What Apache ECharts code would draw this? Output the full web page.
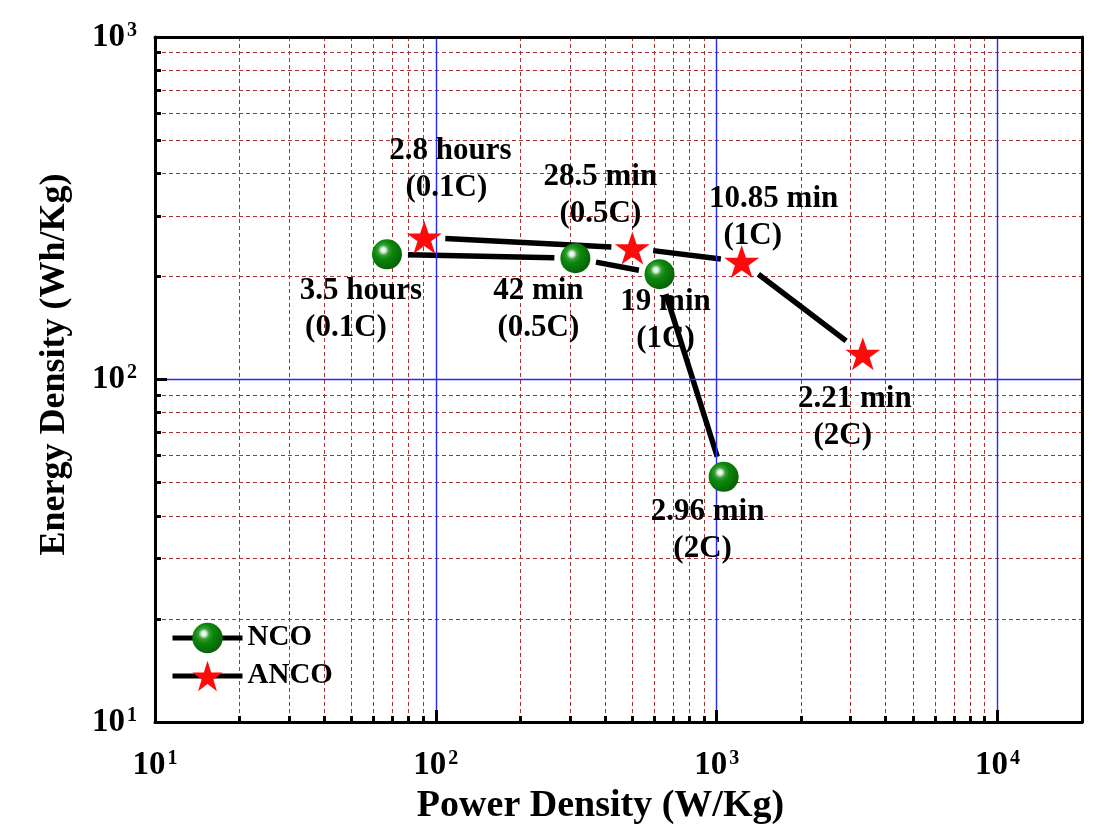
<!DOCTYPE html>
<html>
<head>
<meta charset="utf-8">
<script src="https://cdn.jsdelivr.net/npm/echarts@6/dist/echarts.min.js"></script>
<style>
  html, body { margin: 0; padding: 0; background: #ffffff; }
  #chart { width: 1097px; height: 830px; }
</style>
</head>
<body>
<div id="chart"></div>
<script>
// Ragone plot: energy density vs power density for NCO and ANCO cathodes
const seriesNames = ['NCO', 'ANCO'];

const ncoPower  = [67, 314, 626, 1059];     // W/Kg
const ncoEnergy = [232, 226, 203, 52];      // Wh/Kg
const ncoLabels = [['3.5 hours', '(0.1C)'], ['42 min', '(0.5C)'], ['19 min', '(1C)'], ['2.96 min', '(2C)']];

const ancoPower  = [91, 501, 1228, 3315];   // W/Kg
const ancoEnergy = [260, 242, 221, 119];    // Wh/Kg
const ancoLabels = [['2.8 hours', '(0.1C)'], ['28.5 min', '(0.5C)'], ['10.85 min', '(1C)'], ['2.21 min', '(2C)']];

const xMajorTicks = [10, 100, 1000, 10000];
const xMinorTicks = [20, 30, 40, 50, 60, 70, 80, 90,
                     200, 300, 400, 500, 600, 700, 800, 900,
                     2000, 3000, 4000, 5000, 6000, 7000, 8000, 9000];
const yMajorTicks = [10, 100, 1000];
const yMinorTicks = [20, 30, 40, 50, 60, 70, 80, 90,
                     200, 300, 400, 500, 600, 700, 800, 900];

// label placement relative to each marker: [dx, dy, second-line shift to the left]
const ncoLabelLayout  = [[-26, 55, 15], [-37, 51, 0], [6, 46, 0], [-16, 54, 5]];
const ancoLabelLayout = [[26, -68, 4], [-32, -53, 0], [32, -44, 21], [-8, 64, 12]];

const FONT = '"Liberation Serif", "Times New Roman", serif';
const SEG_GAP = 21;

const sphere = {
  type: 'radial', x: 0.38, y: 0.36, r: 0.68,
  colorStops: [
    { offset: 0, color: '#ffffff' },
    { offset: 0.12, color: '#d6eed6' },
    { offset: 0.26, color: '#3a9f3a' },
    { offset: 0.45, color: '#0c870c' },
    { offset: 1, color: '#066006' }
  ]
};
const starPath = 'path://M50,0 L61.8,35.1 L98.6,35.1 L68.8,56.9 L80.2,92 L50,70.3 L19.8,92 L31.2,56.9 L1.4,35.1 L38.2,35.1 Z';

function pointData(xs, ys, labels, layout) {
  return xs.map((x, i) => {
    const [dx, dy, shift] = layout[i];
    return {
      value: [x, ys[i]],
      label: {
        show: true,
        position: 'inside',
        offset: [dx, dy],
        formatter: '{a|' + labels[i][0] + '}\n{b|' + labels[i][1] + '}',
        rich: {
          a: { fontFamily: FONT, fontWeight: 'bold', fontSize: 31, color: '#000', lineHeight: 37, align: 'center' },
          b: { fontFamily: FONT, fontWeight: 'bold', fontSize: 31, color: '#000', lineHeight: 37, align: 'center',
               padding: [0, shift * 2, 0, 0] }
        }
      }
    };
  });
}

// connecting segments, trimmed so they stop short of each marker
function segmentSeries(name, xs, ys) {
  const segs = xs.slice(0, -1).map((x, i) => [x, ys[i], xs[i + 1], ys[i + 1]]);
  return {
    type: 'custom',
    name: name,
    coordinateSystem: 'cartesian2d',
    silent: true,
    z: 2,
    data: segs,
    encode: { x: [0, 2], y: [1, 3] },
    renderItem: function (params, api) {
      const p0 = api.coord([api.value(0), api.value(1)]);
      const p1 = api.coord([api.value(2), api.value(3)]);
      const dx = p1[0] - p0[0], dy = p1[1] - p0[1];
      const len = Math.hypot(dx, dy);
      const ux = dx / len, uy = dy / len;
      return {
        type: 'line',
        shape: {
          x1: p0[0] + ux * SEG_GAP, y1: p0[1] + uy * SEG_GAP,
          x2: p1[0] - ux * SEG_GAP, y2: p1[1] - uy * SEG_GAP
        },
        style: { stroke: '#000', lineWidth: 5.5 }
      };
    }
  };
}

function powerLabel(v) {
  const e = Math.round(Math.log10(v));
  return '{b|10}{s|' + e + '}';
}
const tickRich = {
  b: { fontFamily: FONT, fontWeight: 'bold', fontSize: 33, color: '#000' },
  s: { fontFamily: FONT, fontWeight: 'bold', fontSize: 20, color: '#000', verticalAlign: 'top', padding: [0, 0, 0, 2] }
};

const majorLine = { color: '#2626ff', width: 1.4 };
const minorGrid = { show: true, lineStyle: { color: '#a83232', width: 1, type: [4, 3] } };

const xBase = { type: 'log', logBase: 10, min: 10, max: 20000, gridIndex: 0 };
const yBase = { type: 'log', logBase: 10, min: 10, max: 1000, gridIndex: 0 };

const option = {
  backgroundColor: '#ffffff',
  animation: false,
  grid: { left: 155, right: 15, top: 37, bottom: 108, show: false },
  legend: {
    data: seriesNames,
    orient: 'vertical',
    left: 165,
    top: 614,
    itemWidth: 70,
    itemHeight: 38,
    itemGap: 0,
    selectedMode: false,
    textStyle: { fontFamily: FONT, fontWeight: 'bold', fontSize: 29, color: '#000', lineHeight: 38 },
    lineStyle: { color: '#000', width: 5, opacity: 1 }
  },
  xAxis: [
    Object.assign({}, xBase, {
      position: 'bottom',
      name: 'Power Density (W/Kg)',
      nameLocation: 'middle',
      nameGap: 63,
      nameTextStyle: { fontFamily: FONT, fontWeight: 'bold', fontSize: 38, color: '#000', padding: [0, 36, 0, 0] },
      axisLine: { show: true, onZero: false, lineStyle: { color: '#000', width: 3 } },
      axisTick: { show: true, inside: true, length: 12, lineStyle: { color: '#000', width: 3 }, customValues: xMajorTicks },
      axisLabel: { show: true, margin: 27, formatter: powerLabel, rich: tickRich, customValues: xMajorTicks },
      splitLine: { show: true, showMinLine: false, showMaxLine: true, lineStyle: majorLine },
      z: 3
    }),
    Object.assign({}, xBase, {
      position: 'bottom',
      axisLine: { show: false, onZero: false },
      axisTick: { show: true, inside: true, length: 6, lineStyle: { color: '#000', width: 3 }, customValues: xMinorTicks },
      axisLabel: { show: false },
      splitLine: minorGrid,
      z: 1
    }),
    Object.assign({}, xBase, {
      position: 'top',
      axisLine: { show: true, onZero: false, lineStyle: { color: '#000', width: 3 } },
      axisTick: { show: false },
      axisLabel: { show: false },
      splitLine: { show: false },
      z: 4
    })
  ],
  yAxis: [
    Object.assign({}, yBase, {
      position: 'left',
      name: 'Energy Density (Wh/Kg)',
      nameLocation: 'middle',
      nameGap: 82,
      nameRotate: 90,
      nameTextStyle: { fontFamily: FONT, fontWeight: 'bold', fontSize: 36, color: '#000', padding: [0, 0, 0, 30] },
      axisLine: { show: true, onZero: false, lineStyle: { color: '#000', width: 3 } },
      axisTick: { show: true, inside: true, length: 12, lineStyle: { color: '#000', width: 3 }, customValues: yMajorTicks },
      axisLabel: { show: true, margin: 18, formatter: powerLabel, rich: tickRich, customValues: yMajorTicks },
      splitLine: { show: true, showMinLine: false, showMaxLine: false, lineStyle: majorLine },
      z: 3
    }),
    Object.assign({}, yBase, {
      position: 'left',
      axisLine: { show: false, onZero: false },
      axisTick: { show: true, inside: true, length: 6, lineStyle: { color: '#000', width: 3 }, customValues: yMinorTicks },
      axisLabel: { show: false },
      splitLine: minorGrid,
      z: 1
    }),
    Object.assign({}, yBase, {
      position: 'right',
      axisLine: { show: true, onZero: false, lineStyle: { color: '#000', width: 3 } },
      axisTick: { show: false },
      axisLabel: { show: false },
      splitLine: { show: false },
      z: 4
    })
  ],
  series: [
    segmentSeries('NCO segments', ncoPower, ncoEnergy),
    segmentSeries('ANCO segments', ancoPower, ancoEnergy),
    {
      name: 'NCO',
      type: 'line',
      xAxisIndex: 0, yAxisIndex: 0,
      data: pointData(ncoPower, ncoEnergy, ncoLabels, ncoLabelLayout),
      symbol: 'circle',
      symbolSize: 30,
      showSymbol: true,
      itemStyle: { color: sphere },
      lineStyle: { width: 0, opacity: 0 },
      silent: true,
      z: 5
    },
    {
      name: 'ANCO',
      type: 'line',
      xAxisIndex: 0, yAxisIndex: 0,
      data: pointData(ancoPower, ancoEnergy, ancoLabels, ancoLabelLayout),
      symbol: starPath,
      symbolSize: [35, 33],
      showSymbol: true,
      itemStyle: { color: '#ff0a0a' },
      lineStyle: { width: 0, opacity: 0 },
      silent: true,
      z: 5
    }
  ]
};

const chart = echarts.init(document.getElementById('chart'), null, { renderer: 'canvas' });
chart.setOption(option);
</script>
</body>
</html>
